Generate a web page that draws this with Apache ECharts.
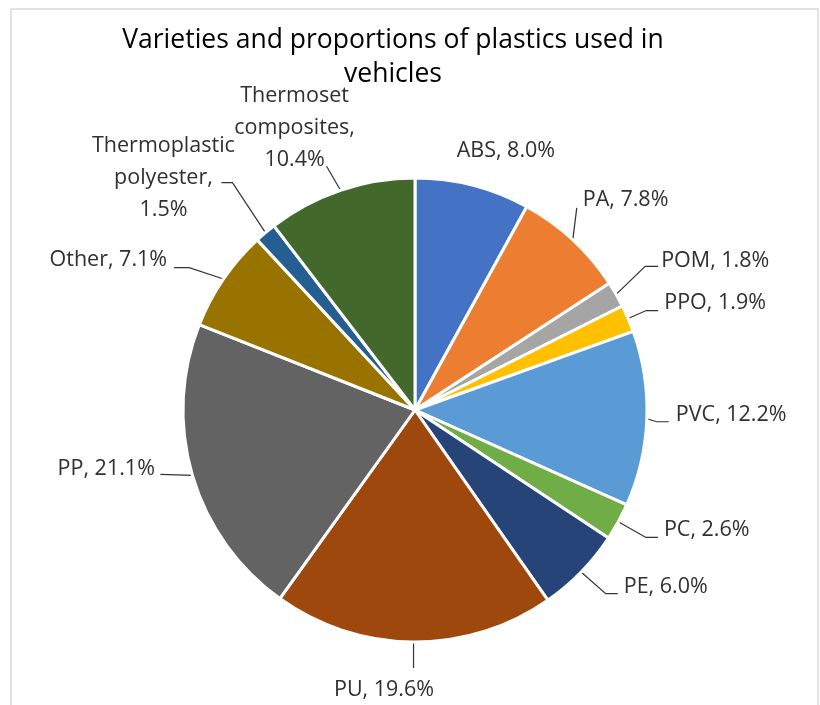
<!DOCTYPE html>
<html>
<head>
<meta charset="utf-8">
<script src="https://cdn.jsdelivr.net/npm/echarts@6/dist/echarts.min.js"></script>
<style>
  html, body { margin: 0; padding: 0; background: #fff; }
  #chart { width: 820px; height: 705px; }
</style>
</head>
<body>
<div id="chart"></div>
<script>
// Plastic varieties and their share (%) of all plastics in a vehicle
const categories = ['ABS', 'PA', 'POM', 'PPO', 'PVC', 'PC', 'PE', 'PU', 'PP', 'Other',
  'Thermoplastic polyester', 'Thermoset composites'];
const shares = [8.0, 7.8, 1.8, 1.9, 12.2, 2.6, 6.0, 19.6, 21.1, 7.1, 1.5, 10.4];
const colors = ['#4472C4', '#ED7D31', '#A5A5A5', '#FFC000', '#5B9BD5', '#70AD47',
  '#264478', '#9E480E', '#636363', '#997300', '#255E91', '#43682B'];

// Leader-line bends and label anchors, given as offsets from the point
// where each leader line leaves the rim of its slice.
const placement = {
  'ABS':                     { line: [], label: [-16, -34], align: 'left' },
  'PA':                      { line: [[4, -32]], label: [10, -40], align: 'left' },
  'POM':                     { line: [[29, -28], [42, -28]], label: [45, -34], align: 'left' },
  'PPO':                     { line: [[18, -8], [30, -8]], label: [36, -15.5], align: 'left' },
  'PVC':                     { line: [[10, 3], [22, 3]], label: [29, -4], align: 'left' },
  'PC':                      { line: [[27.6, 15.7], [39.6, 15.7]], label: [45.6, 8.2], align: 'left' },
  'PE':                      { line: [[24.6, 21.7], [36.6, 21.7]], label: [42.6, 15.2], align: 'left' },
  'PU':                      { line: [[0, 26]], label: [-29.5, 48], align: 'center' },
  'PP':                      { line: [[-32, -1]], label: [-37.5, -6.6], align: 'right' },
  'Other':                   { line: [[-34.4, -11.4], [-49.4, -11.4]], label: [-56.4, -19], align: 'right' },
  'Thermoplastic polyester': { line: [[-33, -50], [-44, -50]], label: [-102, -54.5], align: 'center' },
  'Thermoset composites':    { line: [[-14, -24]], label: [-46, -62.7], align: 'center' }
};

const FONT = 'Open Sans';

const chart = echarts.init(document.getElementById('chart'), null, { renderer: 'canvas' });

chart.setOption({
  animation: false,
  backgroundColor: '#fff',
  title: {
    text: 'Varieties and proportions of plastics used in\nvehicles',
    left: 393,
    top: 23,
    textAlign: 'center',
    padding: 0,
    textStyle: {
      fontFamily: FONT,
      fontSize: 26.5,
      fontWeight: 'normal',
      color: '#000',
      lineHeight: 34
    }
  },
  graphic: [{
    type: 'rect',
    z: -10,
    silent: true,
    shape: { x: 11, y: 9, width: 807, height: 720 },
    style: { fill: 'none', stroke: '#D9D9D9', lineWidth: 1.5 }
  }],
  series: [{
    type: 'pie',
    center: [415, 410],
    radius: 232,
    startAngle: 90,
    clockwise: true,
    avoidLabelOverlap: false,
    data: categories.map((name, i) => ({
      name: name,
      value: shares[i],
      itemStyle: { color: colors[i] }
    })),
    itemStyle: { borderColor: '#fff', borderWidth: 3 },
    label: {
      show: true,
      position: 'outside',
      fontFamily: FONT,
      fontSize: 21.5,
      color: '#303030',
      lineHeight: 32,
      formatter: function (p) {
        const pct = p.value.toFixed(1) + '%';
        return p.name.indexOf(' ') >= 0
          ? p.name.replace(' ', '\n') + ',\n' + pct
          : p.name + ', ' + pct;
      }
    },
    labelLine: {
      show: true,
      length: 10,
      length2: 10,
      lineStyle: { color: '#333', width: 1.2 }
    },
    emphasis: { disabled: true },
    labelLayout: function (p) {
      const pl = placement[categories[p.dataIndex]];
      const e = p.labelLinePoints[0];
      const pts = [[e[0], e[1]]].concat(pl.line.map(o => [e[0] + o[0], e[1] + o[1]]));
      if (pts.length === 1) pts.push([e[0], e[1]]);
      return {
        x: e[0] + pl.label[0],
        y: e[1] + pl.label[1],
        align: pl.align,
        verticalAlign: 'middle',
        labelLinePoints: pts,
        hideOverlap: false
      };
    }
  }]
});
</script>
</body>
</html>
